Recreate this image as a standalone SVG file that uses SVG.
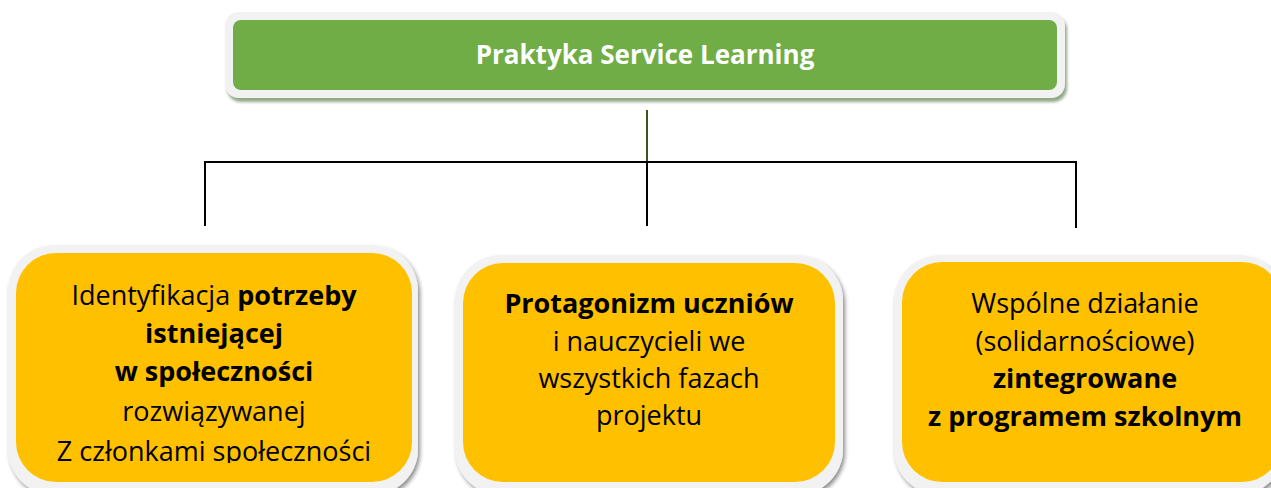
<svg xmlns="http://www.w3.org/2000/svg" width="1271" height="488" viewBox="0 0 1271 488">
<style>
.frame{fill:#F2F2F2}
.green{fill:#70AD47}
.yellow{fill:#FFC000}
.t{font-family:"Open Sans","Liberation Sans",sans-serif;font-size:27px;fill:#000;text-anchor:middle}
.b{font-weight:bold}
.title{font-family:"Open Sans","Liberation Sans",sans-serif;font-size:26px;font-weight:bold;fill:#fff;text-anchor:middle}
.conn{stroke:#000;stroke-width:2;fill:none}
</style>
<defs>
<filter id="sh" x="-5%" y="-10%" width="115%" height="130%">
<feGaussianBlur in="SourceAlpha" stdDeviation="2"/>
<feOffset dx="2" dy="3"/>
<feComponentTransfer><feFuncA type="linear" slope="0.45"/></feComponentTransfer>
<feMerge><feMergeNode/><feMergeNode in="SourceGraphic"/></feMerge>
</filter>
<filter id="shg" x="-5%" y="-20%" width="115%" height="150%">
<feFlood flood-color="#6E8A5E"/>
<feComposite in2="SourceAlpha" operator="in"/>
<feGaussianBlur stdDeviation="1.5"/>
<feOffset dx="2" dy="4"/>
<feComponentTransfer><feFuncA type="linear" slope="0.75"/></feComponentTransfer>
<feMerge><feMergeNode/><feMergeNode in="SourceGraphic"/></feMerge>
</filter>
<clipPath id="c1"><rect x="0" y="0" width="1271" height="463"/></clipPath>
</defs>

<g id="connectors">
<line x1="647" y1="110" x2="647" y2="162" stroke="#375623" stroke-width="2"/>
<line class="conn" x1="204" y1="162" x2="1077" y2="162"/>
<line class="conn" x1="205" y1="162" x2="205" y2="226"/>
<line class="conn" x1="647" y1="162" x2="647" y2="226"/>
<line class="conn" x1="1076" y1="162" x2="1076" y2="228"/>
</g>

<g id="root">
<rect class="frame" x="225" y="12" width="840" height="86" rx="14" filter="url(#shg)"/>
<rect class="green" x="233" y="20" width="824" height="70" rx="8"/>
<text class="title" x="645" y="64">Praktyka Service Learning</text>
</g>

<g id="node1">
<rect class="frame" x="8" y="245" width="410" height="250" rx="46" filter="url(#sh)"/>
<rect class="yellow" x="16" y="253" width="396" height="229" rx="40"/>
<g clip-path="url(#c1)">
<text class="t" x="214" y="305">Identyfikacja <tspan class="b">potrzeby</tspan></text>
<text class="t b" x="214" y="343">istniejącej</text>
<text class="t b" x="214" y="381">w społeczności</text>
<text class="t" x="214" y="421">rozwiązywanej</text>
<text class="t" x="214" y="461">Z członkami społeczności</text>
</g>
</g>

<g id="node2">
<rect class="frame" x="455" y="255" width="388" height="240" rx="46" filter="url(#sh)"/>
<rect class="yellow" x="463" y="263" width="372" height="219" rx="40"/>
<text class="t b" x="649" y="313">Protagonizm uczniów</text>
<text class="t" x="649" y="351">i nauczycieli we</text>
<text class="t" x="649" y="388">wszystkich fazach</text>
<text class="t" x="649" y="425">projektu</text>
</g>

<g id="node3">
<rect class="frame" x="894" y="255" width="390" height="240" rx="46" filter="url(#sh)"/>
<rect class="yellow" x="902" y="262" width="380" height="220" rx="40"/>
<text class="t" x="1085" y="313">Wspólne działanie</text>
<text class="t" x="1085" y="351">(solidarnościowe)</text>
<text class="t b" x="1085" y="388">zintegrowane</text>
<text class="t b" x="1085" y="426">z programem szkolnym</text>
</g>
</svg>
